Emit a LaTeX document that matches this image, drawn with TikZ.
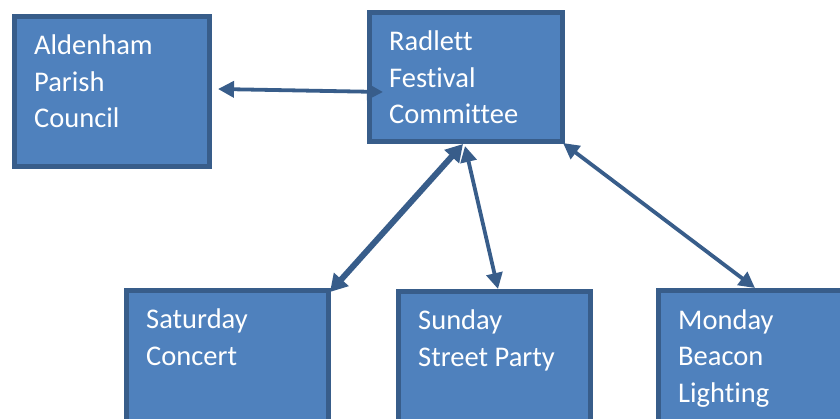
\documentclass[tikz,border=0pt]{standalone}
\usepackage{fontspec}
\setmainfont{Carlito}[Ligatures={NoCommon,NoRare}]
\usetikzlibrary{arrows.meta,positioning}
\definecolor{boxfill}{HTML}{4F81BD}
\definecolor{boxline}{HTML}{385D8A}
\tikzset{
  box/.style={draw=boxline,fill=boxfill,line width=5pt,anchor=north west,inner sep=0pt,outer sep=0pt},
  boxtext/.style={anchor=base west,align=left,text=white,inner sep=0pt,font=\fontsize{28.5}{36.5}\selectfont},
  link/.style={draw=boxline,line width=3.8pt,{Triangle[length=16pt,width=16pt]}-{Triangle[length=16pt,width=16pt]}},
  biglink/.style={link,line width=6pt,{Triangle[length=17pt,width=19pt]}-{Triangle[length=17pt,width=19pt]}}
}

\begin{document}
\begin{tikzpicture}[x=1pt,y=1pt]
    \useasboundingbox (0,0) rectangle (840,-419);
    \clip (0,0) rectangle (840,-419);

    % the committee boxes
    \node[box,minimum width=195,minimum height=150] (ald) at (14,-17) {};
    \node[box,minimum width=193,minimum height=129] (rad) at (369,-13) {};
    \node[box,minimum width=202,minimum height=150] (sat) at (126,-291) {};
    \node[box,minimum width=192,minimum height=150] (sun) at (398,-292) {};
    \node[box,minimum width=200,minimum height=150] (mon) at (658,-291) {};

    % their texts (the base anchor sits on the last line)
    \foreach \name/\down/\txt in {ald/111/{Aldenham\\Parish\\Council}, rad/111/{Radlett\\Festival\\Committee}, sat/74.5/{Saturday\\Concert}, sun/74.5/{Sunday\\Street Party}, mon/111/{Monday\\Beacon\\Lighting}}
        \node[boxtext] (\name-text) at ([shift={(20,-\down)}]\name.north west) {\txt};

    % links between the boxes
    \path[link] ([shift={(9,3)}]ald.east) -- ([shift={(14,-14.5)}]rad.west);
    \path[biglink] ([shift={(-2.5,-2)}]rad.south) -- ([shift={(2,-1)}]sat.north east);
    \path[link] ([shift={(-0.5,-4)}]rad.south) -- ([shift={(4,3)}]sun.north);
    \path[link] ([shift={(1,-1)}]rad.south east) -- ([shift={(97,3)}]mon.north west);
\end{tikzpicture}
\end{document}
